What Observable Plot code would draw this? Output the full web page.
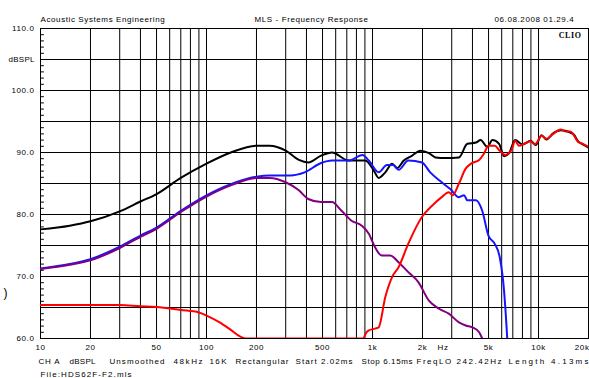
<!DOCTYPE html>
<html>
<head>
<meta charset="utf-8">
<script src="https://cdn.jsdelivr.net/npm/d3@7"></script>
<script src="https://cdn.jsdelivr.net/npm/@observablehq/plot@0.6"></script>
<style>
  html, body { margin: 0; padding: 0; background: #fff; overflow: hidden; }
  #chart svg { display: block; }
</style>
</head>
<body>
<div id="chart"></div>
<script>
// ---- Data ----
const gridFreqs = [10,20,30,40,50,60,70,80,90,100,200,300,400,500,600,700,800,900,1000,2000,3000,4000,5000,6000,7000,8000,9000,10000,20000];
const gridLevels = [65,70,75,80,85,90,95,100,105];
const minorLevels = d3.range(60, 111, 1);

const xTickValues = [10,20,50,100,200,500,1000,2000,5000,10000];
const xTickLabels = ["10","20","50","100","200","500","1k","2k","5k","10k"];
const xEndValue = [20000];
const xEndLabel = "20k";
const yTickValues = [60,70,80,90,100,105,110];
const yTickLabels = ["60.0","70.0","80.0","90.0","100.0","dBSPL","110.0"];

const blackFreq = [10,15,20,30,40,50,70,100,140,200,240,300,360,410,490,570,718,906,1017,1089,1194,1312,1406,1543,1733,1945,2187,2395,2754,3316,3724,4200,4478,4917,5272,5784,6205,6650,7228,8000,8980,9630,10420,11170,12250,13640,14500,15550,16300,17320,18500,20000];
const blackDb   = [77.6,78.2,78.9,80.5,82.1,83.3,85.9,88.2,90.0,91.1,91.1,90.3,88.8,88.4,89.5,90.0,88.7,88.7,87.1,85.9,86.8,88.2,87.5,88.7,89.5,90.3,89.9,89.2,89.1,89.2,91.4,91.6,92.0,90.9,92.0,91.4,89.4,89.9,92.0,91.3,91.9,91.2,92.8,92.1,93.1,93.6,93.5,93.2,92.9,91.8,91.3,90.8];

const blueFreq = [10,15,20,30,40,50,70,100,140,200,240,320,390,490,570,718,870,950,1089,1222,1335,1435,1643,1984,2226,2611,2940,3316,3560,3724,4200,4580,4990,5440,5840,6200,6400,6480];
const blueDb   = [71.3,72.0,72.8,74.8,76.6,77.9,80.6,83.1,84.9,86.1,86.3,86.3,86.8,88.3,88.7,88.7,89.6,88.7,86.8,88.0,88.0,87.2,88.7,88.4,86.8,85.2,84.1,82.8,83.1,82.3,82.3,80.6,76.6,75.3,73.1,67.7,62.4,60.0];

const purpleFreq = [10,15,20,30,40,50,70,100,140,200,240,300,360,410,490,570,650,747,861,950,1036,1134,1280,1435,1643,1888,2187,2515,2880,3316,3640,3996,4390,4580];
const purpleDb   = [71.2,71.9,72.6,74.6,76.4,77.7,80.4,82.9,84.7,85.9,85.9,85.2,83.9,82.5,82.0,82.0,80.6,79.0,78.2,76.9,74.7,73.4,73.4,72.3,70.7,69.1,66.1,64.8,64.0,62.6,62.1,61.8,61.0,60.0];

const redFreq = [10,20,30,40,50,70,90,100,120,140,160,173,300,500,877,920,950,1036,1089,1194,1312,1435,1643,1984,2300,2611,2880,3040,3316,3640,3920,4390,4690,4990,5440,5840,6280,6880,7228,7620,8310,8980,9500,10420,11170,12250,13640,14500,15550,16300,17320,18500,20000];
const redDb   = [65.4,65.4,65.4,65.2,65.1,64.6,64.2,63.7,62.6,61.4,60.3,60.0,60.0,60.0,60.0,61.0,61.3,61.6,61.8,66.7,69.9,71.5,75.3,79.6,81.5,82.8,83.6,83.1,85.0,87.4,88.2,88.8,89.8,91.1,91.1,90.3,89.6,90.4,91.9,91.1,91.5,91.8,91.3,92.7,92.2,93.0,93.7,93.4,93.4,92.8,91.7,91.4,90.9];

const headerLeft = "Acoustic Systems Engineering";
const headerCenter = "MLS - Frequency Response";
const headerRight = "06.08.2008 01.29.4";
const brand = "CLIO";
const unitLabel = "Hz";
const captionItems = ["CH A","dBSPL","Unsmoothed","48kHz","16K","Rectangular","Start 2.02ms","Stop 6.15ms","FreqLO 242.42Hz","Length 4.13ms"];
const captionX = [38,69,109,173,209,235,295,361,416,508];
const captionW = [21,26,55,29,17,53,57,51,85,80];
const fileLabel = "File:HDS62F-F2.mls";
const fileW = 91;

// ---- Build tables ----
const zip = (fs, vs) => fs.map((f, i) => ({f, v: vs[i]}));
const black = zip(blackFreq, blackDb);
const blue = zip(blueFreq, blueDb);
const purple = zip(purpleFreq, purpleDb);
const red = zip(redFreq, redDb);
const xTicks = xTickValues.map((f, i) => ({f, label: xTickLabels[i]}));

const W = 589, H = 378, ML = 40, MR = 1, MT = 28, MB = 40;
const lineOpts = {x: "f", y: "v", strokeWidth: 2, clip: true, strokeLinejoin: "round", curve: "monotone-x"};

const captionMarks = captionItems.map((t, i) =>
  Plot.text([t], {frameAnchor: "bottom-left", dx: captionX[i] - ML, dy: 25, textAnchor: "start", letterSpacing: "1px"})
);

const chart = Plot.plot({
  width: W, height: H,
  marginLeft: ML, marginRight: MR, marginTop: MT, marginBottom: MB,
  x: {type: "log", domain: [10, 20000], axis: null},
  y: {domain: [60, 110], axis: null},
  style: {fontFamily: "'Liberation Sans', Arial, sans-serif", fontSize: "8px", letterSpacing: "0.6px", background: "#fff", color: "#000"},
  marks: [
    Plot.ruleX(gridFreqs, {stroke: "#000", strokeWidth: 1}),
    Plot.ruleY(gridLevels, {stroke: "#000", strokeWidth: 1}),
    Plot.ruleY(minorLevels, {x1: 10, x2: 10.55, stroke: "#000", strokeWidth: 1}),
    Plot.frame({stroke: "#000", strokeWidth: 1}),
    Plot.line(black, {...lineOpts, stroke: "#000"}),
    Plot.line(blue, {...lineOpts, stroke: "#1414ff"}),
    Plot.line(purple, {...lineOpts, stroke: "#800080"}),
    Plot.line(red, {...lineOpts, stroke: "#ff0000"}),
    Plot.text(xTicks, {x: "f", text: "label", frameAnchor: "bottom", dy: 11}),
    Plot.text(xEndValue, {x: d => d, text: () => xEndLabel, frameAnchor: "bottom", dy: 11, textAnchor: "end", dx: 1}),
    Plot.axisY(yTickValues, {tickSize: 0, tickPadding: 6, tickFormat: (d, i) => yTickLabels[i], label: null}),
    Plot.text([unitLabel], {frameAnchor: "bottom-left", dx: 437 - ML, dy: 11}),
    Plot.text([headerLeft], {frameAnchor: "top-left", dx: 0, dy: -12, textAnchor: "start"}),
    Plot.text([headerCenter], {frameAnchor: "top-left", dx: 254 - ML, dy: -12, textAnchor: "start", letterSpacing: "0.9px"}),
    Plot.text([headerRight], {frameAnchor: "top-left", dx: 494 - ML, dy: -12, textAnchor: "start"}),
    Plot.text([brand], {frameAnchor: "top-right", dx: -7, dy: 4, textAnchor: "end", fontFamily: "'Liberation Serif', 'DejaVu Serif', serif", fontWeight: "bold", fontSize: 8, letterSpacing: "0.8px"}),
    Plot.text([")"], {frameAnchor: "top-left", dx: -37, dy: 260, textAnchor: "start", fontSize: 12, letterSpacing: "0px"}),
    ...captionMarks,
    Plot.text([fileLabel], {frameAnchor: "bottom-left", dx: 0, dy: 38, textAnchor: "start", letterSpacing: "0.9px"})
  ]
});

// stretch caption words to the widths they occupy in the reference
const widths = new Map(captionItems.map((t, i) => [t, captionW[i]]));
widths.set(fileLabel, fileW);
d3.select(chart).selectAll("text").each(function() {
  const w = widths.get(this.textContent);
  if (w) {
    d3.select(this).attr("textLength", w).attr("lengthAdjust", "spacing").style("letter-spacing", "0px");
  }
});
document.getElementById("chart").append(chart);
</script>
</body>
</html>
